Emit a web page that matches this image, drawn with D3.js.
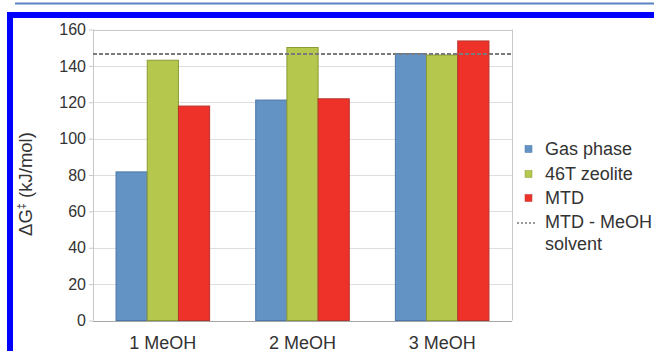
<!DOCTYPE html>
<html><head><meta charset="utf-8">
<script src="https://cdn.jsdelivr.net/npm/d3@7"></script>
<style>body{margin:0;background:#fff;} svg{display:block;font-family:"Liberation Sans",Arial,sans-serif;}</style>
</head><body>
<svg id="c" width="654" height="351"></svg>
<script>
const categories = ["1 MeOH", "2 MeOH", "3 MeOH"];
const seriesNames = ["Gas phase", "46T zeolite", "MTD"];
const gasPhase = [81.7, 121.2, 146.8];
const zeolite46T = [143.1, 150.1, 146.0];
const mtd = [117.9, 121.9, 153.7];
const solventValue = 146.5;
const solventLabel = ["MTD - MeOH", "solvent"];
const yTicks = [0, 20, 40, 60, 80, 100, 120, 140, 160];
const colors = ["#6393c4", "#b6c74d", "#ee3229"];
const strokes = ["#4a77a8", "#8b9a35", "#b8332b"];

const series = [gasPhase, zeolite46T, mtd];
const svg = d3.select("#c");
const M = {left: 93, right: 512, top: 29.5, bottom: 320.5};

// decorative frame
svg.append("line").attr("x1", 15).attr("x2", 654).attr("y1", 3.5).attr("y2", 3.5)
  .attr("stroke", "#5b82c2").attr("stroke-width", 2);
svg.append("rect").attr("x", 10).attr("y", 15).attr("width", 700).attr("height", 400)
  .attr("fill", "none").attr("stroke", "#0000ff").attr("stroke-width", 6);

const x0 = d3.scaleBand().domain(categories).range([M.left, M.right]).paddingInner(0.33).paddingOuter(0.165);
const x1 = d3.scaleBand().domain(seriesNames).range([0, x0.bandwidth()]);
const y = d3.scaleLinear().domain([0, 160]).range([M.bottom, M.top]);

// gridlines
svg.append("g").selectAll("line").data(yTicks).join("line")
  .attr("x1", M.left).attr("x2", M.right)
  .attr("y1", d => Math.round(y(d)) + 0.5).attr("y2", d => Math.round(y(d)) + 0.5)
  .attr("stroke", d => d === 0 ? "#a6a6a6" : (d === 160 ? "#c8c8c8" : "#dedede")).attr("stroke-width", 1);
svg.append("line").attr("x1", M.right + 0.5).attr("x2", M.right + 0.5).attr("y1", M.top).attr("y2", M.bottom)
  .attr("stroke", "#c8c8c8");
svg.append("line").attr("x1", M.left + 0.5).attr("x2", M.left + 0.5).attr("y1", M.top).attr("y2", M.bottom)
  .attr("stroke", "#c8c8c8");

// y axis
const yAxis = d3.axisLeft(y).tickValues(yTicks).tickSize(4).tickPadding(3);
const ga = svg.append("g").attr("transform", `translate(${M.left},0)`).call(yAxis);
ga.select(".domain").remove();
ga.selectAll(".tick line").attr("stroke", "#c8c8c8");
ga.selectAll(".tick text").attr("fill", "#333").style("font-size", "16px").style("font-family", "Liberation Sans, Arial, sans-serif");

// bars
const groups = svg.append("g").selectAll("g").data(categories).join("g")
  .attr("transform", d => `translate(${x0(d)},0)`);
groups.selectAll("rect").data((c, i) => seriesNames.map((s, j) => ({s, j, v: series[j][i]}))).join("rect")
  .attr("x", d => x1(d.s)).attr("width", x1.bandwidth())
  .attr("y", d => y(d.v)).attr("height", d => y(0) - y(d.v))
  .attr("fill", d => colors[d.j]).attr("stroke", d => strokes[d.j]).attr("stroke-width", 1);

// solvent dashed line
svg.append("line").attr("x1", M.left).attr("x2", M.right)
  .attr("y1", y(solventValue)).attr("y2", y(solventValue))
  .attr("stroke", "#7a7a7a").attr("stroke-width", 2).attr("stroke-dasharray", "4,2");

// x labels
const xAxis = d3.axisBottom(x0).tickSize(0).tickPadding(0);
const gx = svg.append("g").attr("transform", `translate(0,${M.bottom})`).call(xAxis);
gx.select(".domain").remove();
gx.selectAll(".tick text").attr("fill", "#333").attr("dy", null).attr("y", 28)
  .style("font-size", "18px").style("font-family", "Liberation Sans, Arial, sans-serif");

// y title
const yt = svg.append("text").attr("transform", `translate(32,184) rotate(-90)`)
  .attr("text-anchor", "middle").attr("fill", "#333").style("font-size", "18.5px");
yt.append("tspan").text("ΔG");
yt.append("tspan").attr("dy", -7).style("font-size", "11px").text("‡");
yt.append("tspan").attr("dy", 7).text(" (kJ/mol)");

// legend
const lg = svg.append("g");
const rowY = [149, 174, 198, 222];
seriesNames.forEach((s, i) => {
  lg.append("rect").attr("x", 525).attr("y", rowY[i] - 3.5).attr("width", 7).attr("height", 7)
    .attr("fill", colors[i]).attr("stroke", strokes[i]).attr("stroke-width", 0.5);
  lg.append("text").attr("x", 545).attr("y", rowY[i]).attr("dy", "0.35em")
    .attr("fill", "#333").style("font-size", "18px").text(s);
});
lg.append("line").attr("x1", 517).attr("x2", 536).attr("y1", rowY[3] + 1).attr("y2", rowY[3] + 1)
  .attr("stroke", "#7a7a7a").attr("stroke-width", 1.5).attr("stroke-dasharray", "2,2");
lg.append("text").attr("x", 545).attr("y", rowY[3]).attr("dy", "0.35em")
  .attr("fill", "#333").style("font-size", "18px").text(solventLabel[0]);
lg.append("text").attr("x", 545).attr("y", rowY[3] + 22).attr("dy", "0.35em")
  .attr("fill", "#333").style("font-size", "18px").text(solventLabel[1]);
</script>
</body></html>
